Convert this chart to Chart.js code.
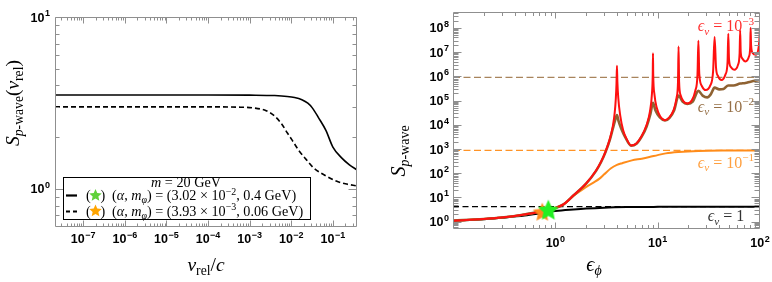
<!DOCTYPE html>
<html><head><meta charset="utf-8">
<script src="https://cdn.jsdelivr.net/npm/chart.js@4.4.1/dist/chart.umd.min.js"></script>
<style>
html,body{margin:0;padding:0;background:#fff;width:772px;height:282px;overflow:hidden}
#wrap{position:relative;width:772px;height:282px}
canvas{position:absolute;top:0}
#c1{left:0}
#c2{left:386px}
</style></head><body>
<div id="wrap"><canvas id="c1" width="386" height="282"></canvas><canvas id="c2" width="386" height="282"></canvas></div>
<script>
// ---------------- DATA ----------------
// Left panel: S_p-wave vs v_rel/c
const leftXRange = [2.1e-8, 0.38];
const leftYRange = [0.646, 10];
const leftXTicks = [1e-7, 1e-6, 1e-5, 1e-4, 1e-3, 1e-2, 1e-1];
const leftXTickLabels = ['10^−7', '10^−6', '10^−5', '10^−4', '10^−3', '10^−2', '10^−1'];
const leftYTicks = [1, 10];
const leftYTickLabels = ['10^0', '10^1'];

const solidVX = [2.1e-8, 1e-6, 1e-4, 1e-3, 4e-3, 8e-3, 1.2e-2, 1.8e-2, 2.5e-2, 3.2e-2, 4.5e-2, 6.8e-2, 0.1, 0.16, 0.25, 0.38];
const solidS  = [3.52, 3.52, 3.52, 3.51, 3.49, 3.45, 3.4, 3.3, 3.15, 2.96, 2.6, 2.19, 1.75, 1.52, 1.38, 1.29];
const dashedVX = [2.1e-8, 1e-6, 1e-4, 5e-4, 1.2e-3, 2.5e-3, 4e-3, 6e-3, 8e-3, 1.05e-2, 1.5e-2, 2.3e-2, 3.5e-2, 6.8e-2, 0.12, 0.2, 0.38];
const dashedS  = [3.0, 3.0, 3.0, 2.99, 2.96, 2.85, 2.65, 2.37, 2.12, 1.92, 1.68, 1.48, 1.32, 1.19, 1.11, 1.07, 1.04];

// Right panel: S_p-wave vs epsilon_phi
const rightXRange = [0.1, 100];
const rightYRange = [0.5, 4.5e8];
const rightXTicks = [1, 10, 100];
const rightXTickLabels = ['10^0', '10^1', '10^2'];
const rightYTicks = [1, 10, 100, 1e3, 1e4, 1e5, 1e6, 1e7, 1e8];
const rightYTickLabels = ['10^0', '10^1', '10^2', '10^3', '10^4', '10^5', '10^6', '10^7', '10^8'];

const redEps = [0.1,0.2,0.3,0.5,0.7,0.85,1.0,1.2,1.5,2.0,2.5,2.8,3.1,3.4,3.65,3.8,3.9,3.96,4.0,4.04,4.12,4.3,4.6,5.0,5.5,6.2,7.0,7.8,8.4,8.8,8.95,9.0,9.05,9.3,9.8,10.6,11.8,13,14.3,15.3,15.8,16,16.2,16.8,17.8,19.5,21.5,23.3,24.5,25,25.5,27,29.5,32.5,34.8,36,37.2,39,42,46,48.2,49,49.8,52,56,61,63.2,64,64.8,67,72,78,80.2,81,81.8,85,91,96,98.5,100];
const redS   = [1.1,1.3,1.5,2.0,2.6,3.1,3.7,5.2,12,38,130,300,800,2500,9000,3e4,1.2e5,5e5,2.7e6,6e5,1.3e5,2.5e4,6000,2500,1400,1700,3500,1e4,3.5e4,2e5,1.2e6,9e6,1.2e6,1.8e5,5e4,2.2e4,1.55e4,2e4,4e4,1.3e5,6e5,1.7e7,6e5,1.6e5,9.5e4,7.6e4,1e5,2.5e5,1.2e6,2.9e7,1.3e6,4e5,2.7e5,4e5,1.6e6,4.2e7,2.2e6,1e6,7e5,1.2e6,4e6,5.7e7,5e6,2.4e6,1.85e6,3e6,9e6,7.9e7,1e7,5.5e6,4.1e6,6.5e6,1.6e7,1e8,2e7,9e6,7.7e6,1.2e7,3e7,1.2e8];

const brownEps = [0.1,0.2,0.3,0.5,0.7,0.85,1.0,1.2,1.5,2.0,2.5,2.8,3.1,3.4,3.65,3.85,4.0,4.15,4.4,4.8,5.5,6.2,7.0,7.8,8.5,9.0,9.5,10.5,11.8,13,14.5,16,17.5,19.5,22,25,27.5,30.5,33,36,40,44,49,55,64,72,81,100];
const brownS   = [1.1,1.3,1.5,2.0,2.6,3.1,3.7,5.2,12,37,125,290,760,2300,7000,1.6e4,2.5e4,1.4e4,7000,3200,1380,1650,3300,8500,2.8e4,8e4,4e4,2e4,1.5e4,1.9e4,4e4,1.6e5,9e4,7.3e4,9e4,2.5e5,1.6e5,1.35e5,1.8e5,3.4e5,2.9e5,3e5,4.2e5,4.2e5,5e5,5.3e5,6e5,7e5];

const orangeEps = [0.1,0.2,0.3,0.5,0.7,0.85,1.0,1.2,1.5,1.8,2.1,2.4,2.7,3.0,3.5,4.0,4.5,5.6,7,8.3,10,12,16,25,50,100];
const orangeS   = [1.1,1.3,1.5,2.0,2.6,3.1,3.7,5.1,11.5,20,31,43,60,90,160,220,260,340,400,465,560,660,750,830,865,875];

const blackEps = [0.1,0.2,0.3,0.5,0.7,0.85,1,1.5,2,3,5,10,30,100];
const blackS   = [1.1,1.25,1.45,1.8,2.2,2.5,2.75,3.2,3.5,3.8,4.0,4.1,4.15,4.15];

const limitBrown = 9e5;   // eps_v = 1e-2 asymptote
const limitOrange = 880;  // eps_v = 1e-1 asymptote
const limitBlack = 4.2;   // eps_v = 1 asymptote

const greenStar = {x: 0.855, y: 3.15};
const orangeStar = {x: 0.746, y: 2.6};

// ---------------- HELPERS ----------------
const SERIF = '"Liberation Serif","Times New Roman",serif';
const SANS = '"Liberation Sans", Arial, sans-serif';
const pts = (xs, ys) => xs.map((x, i) => ({x, y: ys[i]}));
function seg(t, o) { return Object.assign({t, it: false, k: 1, dy: 0}, o || {}); }
function fontOf(s, size) { return (s.it ? 'italic ' : '') + (size * s.k).toFixed(2) + 'px ' + SERIF; }
function measureRich(ctx, segs, size) {
  let w = 0;
  for (const s of segs) { ctx.font = fontOf(s, size); w += ctx.measureText(s.t).width; }
  return w;
}
function drawRich(ctx, segs, size, x, y, align, rot, color) {
  ctx.save();
  ctx.translate(x, y);
  if (rot) ctx.rotate(rot);
  const w = measureRich(ctx, segs, size);
  let cx = align === 'center' ? -w / 2 : (align === 'right' ? -w : 0);
  ctx.textBaseline = 'alphabetic';
  ctx.textAlign = 'left';
  for (const s of segs) {
    ctx.font = fontOf(s, size);
    ctx.fillStyle = s.color || color;
    ctx.fillText(s.t, cx, s.dy * size);
    cx += ctx.measureText(s.t).width;
  }
  ctx.restore();
  return w;
}
// tick label "10^e" : bold base with bold superscript exponent
function drawPow(ctx, label, x, y, align) {
  const parts = label.split('^');
  const b = parts[0], e = parts[1] || '';
  ctx.save();
  ctx.font = 'bold 12.5px ' + SANS; const wb = ctx.measureText(b).width;
  ctx.font = 'bold 9px ' + SANS; const we = e ? ctx.measureText(e).width + 0.5 : 0;
  const w = wb + we;
  const x0 = align === 'center' ? x - w / 2 : x - w;
  ctx.fillStyle = '#000'; ctx.textAlign = 'left'; ctx.textBaseline = 'alphabetic';
  ctx.font = 'bold 12.5px ' + SANS; ctx.fillText(b, x0, y);
  if (e) { ctx.font = 'bold 9px ' + SANS; ctx.fillText(e, x0 + wb + 0.5, y - 5.5); }
  ctx.restore();
}
function starPath(g, cx, cy, R, r) {
  g.beginPath();
  for (let i = 0; i < 10; i++) {
    const a = -Math.PI / 2 + i * Math.PI / 5;
    const rr = (i % 2) ? r : R;
    g.lineTo(cx + rr * Math.cos(a), cy + rr * Math.sin(a));
  }
  g.closePath();
}
function starImage(R, color) {
  const c = document.createElement('canvas');
  const s = Math.ceil(2 * R + 2);
  c.width = s; c.height = s;
  const g = c.getContext('2d');
  starPath(g, s / 2, s / 2 + 1, R, R * 0.47);
  g.fillStyle = color; g.fill();
  return c;
}
function minorTicks(min, max) {
  const out = [];
  for (let e = Math.floor(Math.log10(min)); e <= Math.ceil(Math.log10(max)); e++) {
    for (let m = 2; m <= 9; m++) { const v = m * Math.pow(10, e); if (v >= min && v <= max) out.push(v); }
  }
  return out;
}
function framePlugin(cfg) {
  return {
    id: 'frame' + Math.random().toString(36).slice(2),
    afterDraw(chart) {
      const {ctx, chartArea: a, scales: {x, y}} = chart;
      ctx.save();
      ctx.strokeStyle = cfg.color; ctx.lineWidth = 1;
      const L = Math.round(a.left) + 0.5, R = Math.round(a.right) - 0.5;
      const T = Math.round(a.top) + 0.5, B = Math.round(a.bottom) - 0.5;
      ctx.beginPath();
      ctx.rect(L, T, R - L, B - T);
      const xt = (vals, len) => { for (const v of vals) { const p = Math.round(x.getPixelForValue(v)) + 0.5; if (p < L || p > R) continue; ctx.moveTo(p, B); ctx.lineTo(p, B - len); ctx.moveTo(p, T); ctx.lineTo(p, T + len); } };
      const yt = (vals, len) => { for (const v of vals) { const p = Math.round(y.getPixelForValue(v)) + 0.5; if (p < T || p > B) continue; ctx.moveTo(L, p); ctx.lineTo(L + len, p); ctx.moveTo(R, p); ctx.lineTo(R - len, p); } };
      xt(cfg.xMajor, cfg.xMajLen); xt(minorTicks(x.min, x.max), cfg.xMinLen);
      yt(cfg.yMajor, cfg.yMajLen); yt(minorTicks(y.min, y.max), cfg.yMinLen);
      ctx.stroke();
      ctx.restore();
      // tick labels placed through the scales
      x.ticks.forEach((t, i) => drawPow(ctx, cfg.xLabels[i], x.getPixelForValue(t.value), a.bottom + cfg.xLabelDrop, 'center'));
      y.ticks.forEach((t, i) => drawPow(ctx, cfg.yLabels[i], a.left - cfg.yLabelGap, y.getPixelForValue(t.value) + 4.5, 'right'));
      if (cfg.extra) cfg.extra(chart);
    }
  };
}
function logAxis(range, ticks, fitSize, isX) {
  return {
    type: 'logarithmic', min: range[0], max: range[1],
    grid: {display: false, drawTicks: false}, border: {display: false},
    ticks: {display: false, autoSkip: false},
    afterBuildTicks: (axis) => { axis.ticks = ticks.map(v => ({value: v})); },
    afterFit: (axis) => {
      if (isX) axis.height = fitSize; else axis.width = fitSize;
      axis.paddingLeft = 0; axis.paddingRight = 0; axis.paddingTop = 0; axis.paddingBottom = 0;
    }
  };
}
const common = {
  responsive: false, animation: false, devicePixelRatio: 1,
  plugins: {legend: {display: false}, tooltip: {enabled: false}},
  elements: {point: {radius: 0, hoverRadius: 0}, line: {cubicInterpolationMode: 'monotone', tension: 0}}
};

// ---------------- LEFT CHART ----------------
new Chart(document.getElementById('c1'), {
  type: 'line',
  data: {datasets: [
    {data: pts(solidVX, solidS), borderColor: '#000', borderWidth: 1.6, fill: false},
    {data: pts(dashedVX, dashedS), borderColor: '#000', borderWidth: 1.6, borderDash: [5, 3], fill: false}
  ]},
  options: Object.assign({}, common, {
    layout: {padding: {top: 17, right: 29, left: 0, bottom: 0}},
    scales: {
      x: logAxis(leftXRange, leftXTicks, 55, true),
      y: logAxis(leftYRange, leftYTicks, 55, false)
    }
  }),
  plugins: [framePlugin({
    color: '#8f8f8f', xMajor: leftXTicks, yMajor: leftYTicks, xMajLen: 6, xMinLen: 3, yMajLen: 8, yMinLen: 4,
    xLabels: leftXTickLabels, yLabels: leftYTickLabels, xLabelDrop: 16, yLabelGap: 5,
    extra(chart) {
      const ctx = chart.ctx;
      // axis titles
      const sub = {k: 0.7, dy: 0.22};
      drawRich(ctx, [seg('S', {it: true}), seg('p', Object.assign({it: true}, sub)), seg('-wave', sub), seg('('), seg('v', {it: true}), seg('rel', sub), seg(')')],
        19.5, 19, 103, 'center', -Math.PI / 2, '#000');
      drawRich(ctx, [seg('v', {it: true}), seg('rel', sub), seg('/'), seg('c', {it: true})], 19.5, 206, 271, 'center', 0, '#000');
      // legend
      ctx.save();
      ctx.fillStyle = '#fff'; ctx.strokeStyle = '#000'; ctx.lineWidth = 1;
      ctx.fillRect(63, 177, 248, 43); ctx.strokeRect(63.5, 177.5, 247, 42);
      ctx.beginPath(); ctx.moveTo(66, 195.5); ctx.lineTo(77, 195.5); ctx.lineWidth = 2.2; ctx.stroke();
      ctx.beginPath(); ctx.moveTo(66, 211.5); ctx.lineTo(70, 211.5); ctx.moveTo(73, 211.5); ctx.lineTo(77, 211.5); ctx.stroke();
      ctx.restore();
      const fs = 14.2;
      drawRich(ctx, [seg('m', {it: true}), seg(' = 20 GeV')], fs, 186, 187, 'center', 0, '#000');
      const supS = {k: 0.7, dy: -0.38};
      const subS = {k: 0.7, dy: 0.22, it: true};
      [[200, '(3.02 × 10', '−2', ', 0.4 GeV)', '#5fd13a'], [215.5, '(3.93 × 10', '−3', ', 0.06 GeV)', '#ffa500']].forEach(([by, a, e, b, col]) => {
        drawRich(ctx, [seg('(')], fs, 86, by, 'left', 0, '#000');
        drawRich(ctx, [seg(')')], fs, 100.5, by, 'left', 0, '#000');
        ctx.save(); starPath(ctx, 95.5, by - 4.5, 6.5, 3); ctx.fillStyle = col; ctx.fill(); ctx.restore();
        drawRich(ctx, [seg('('), seg('α', {it: true}), seg(', '), seg('m', {it: true}), seg('φ', subS), seg(') = '), seg(a), seg(e, supS), seg(b)], fs, 112, by, 'left', 0, '#000');
      });
    }
  })]
});

// ---------------- RIGHT CHART ----------------
new Chart(document.getElementById('c2'), {
  type: 'line',
  data: {datasets: [
    {data: [greenStar], pointStyle: starImage(11, '#22f022'), pointRadius: 11, showLine: false, order: 0},
    {data: [orangeStar], pointStyle: starImage(10, '#ff8a1c'), pointRadius: 10, showLine: false, order: 1},
    {data: pts(redEps, redS), borderColor: '#ff1010', borderWidth: 2, order: 2},
    {data: pts(brownEps, brownS), borderColor: '#8f6232', borderWidth: 2.6, order: 3},
    {data: pts(orangeEps, orangeS), borderColor: '#ff8c1a', borderWidth: 2, order: 4},
    {data: pts(blackEps, blackS), borderColor: '#000', borderWidth: 2, order: 5},
    {data: pts(rightXRange, [limitBlack, limitBlack]), borderColor: '#000', borderWidth: 1.2, borderDash: [6, 3.5], order: 6},
    {data: pts(rightXRange, [limitOrange, limitOrange]), borderColor: '#ff9326', borderWidth: 1.3, borderDash: [7, 3.5], order: 7},
    {data: pts(rightXRange, [limitBrown, limitBrown]), borderColor: '#a8845c', borderWidth: 1.4, borderDash: [7, 3.5], order: 8}
  ]},
  options: Object.assign({}, common, {
    layout: {padding: {top: 12, right: 10, left: 0, bottom: 0}},
    scales: {
      x: logAxis(rightXRange, rightXTicks, 53, true),
      y: logAxis(rightYRange, rightYTicks, 67, false)
    }
  }),
  plugins: [framePlugin({
    color: '#8f8f8f', xMajor: rightXTicks, yMajor: rightYTicks, xMajLen: 6, xMinLen: 3.5, yMajLen: 8, yMinLen: 5,
    xLabels: rightXTickLabels, yLabels: rightYTickLabels, xLabelDrop: 18, yLabelGap: 4,
    extra(chart) {
      const ctx = chart.ctx;
      const sub = {k: 0.7, dy: 0.22};
      drawRich(ctx, [seg('S', {it: true}), seg('p', Object.assign({it: true}, sub)), seg('-wave', sub)], 20, 19, 151, 'center', -Math.PI / 2, '#000');
      drawRich(ctx, [seg('ϵ', {it: true}), seg('ϕ', Object.assign({it: true}, sub))], 20, 208, 271, 'center', 0, '#000');
      const supS = {k: 0.7, dy: -0.38};
      const lab = (e, y, col) => drawRich(ctx, [seg('ϵ', {it: true}), seg('v', Object.assign({it: true}, sub)), seg(' = ' + (e ? '10' : '1')), seg(e || '', supS)], 16, 340, y, 'center', 0, col);
      lab('−3', 31, '#ff3030');
      lab('−2', 111.5, '#967047');
      lab('−1', 167.5, '#ffa040');
      lab('', 221, '#333');
    }
  })]
});
</script>
</body></html>
